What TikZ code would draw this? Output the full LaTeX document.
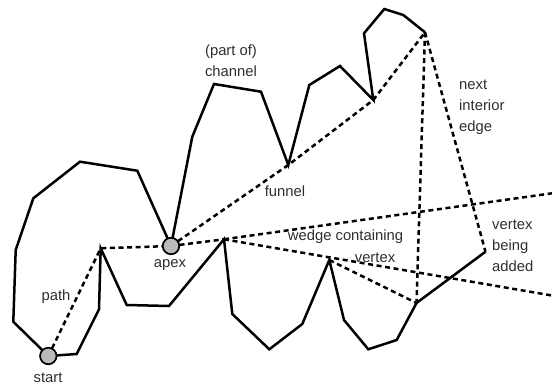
\documentclass[tikz,border=0pt]{standalone}
\usepackage{fontspec}
\setmainfont{Liberation Sans}
\begin{document}
\begin{tikzpicture}[x=1pt,y=-1pt,
  wall/.style={line width=2.5pt,line join=miter,black},
  dashln/.style={line width=2.5pt,dash pattern=on 5pt off 3.6pt,black},
  endpt/.style={circle,draw=black,line width=1.7pt,fill=black!27,minimum size=16.5pt,inner sep=0pt},
  lbl/.style={font=\fontsize{14.8}{21}\selectfont,text=black!82,inner sep=0pt},
  lbll/.style={lbl,align=left,anchor=north west}]
\useasboundingbox (0,0) rectangle (552,388);
% upper wall points
\coordinate (s) at (48.3,356);
\coordinate (a1) at (13.3,321.7);
\coordinate (a2) at (15.7,250);
\coordinate (a3) at (33.3,198.3);
\coordinate (a4) at (80,161.7);
\coordinate (a5) at (137.3,170.7);
\coordinate (ap) at (171,246);
\coordinate (u0) at (192.3,136.7);
\coordinate (u1) at (214,84);
\coordinate (u2) at (261,91.7);
\coordinate (u3) at (288.3,165);
\coordinate (u4) at (309.3,85);
\coordinate (u5) at (340,66);
\coordinate (u6) at (373.3,100);
\coordinate (u7) at (364,33.3);
\coordinate (u8) at (384.3,9);
\coordinate (u9) at (403.3,15);
\coordinate (u10) at (425,32.3);
% lower wall points
\coordinate (l1) at (76.7,354);
\coordinate (l2) at (99,309.3);
\coordinate (l3) at (100.7,248.3);
\coordinate (l4) at (126.7,305);
\coordinate (l5) at (169,306);
\coordinate (l6) at (224,239.3);
\coordinate (l7) at (232.3,314);
\coordinate (l8) at (269.3,349.3);
\coordinate (l9) at (302.3,324);
\coordinate (l10) at (329.3,260);
\coordinate (l11) at (344,320);
\coordinate (l12) at (368.3,349.3);
\coordinate (l13) at (396.7,340);
\coordinate (l14) at (416.5,303);
\coordinate (nv) at (485.5,251.7);
\coordinate (r1) at (552,193.3);
\coordinate (r2) at (552,295.5);
% walls
\draw[wall] (s) -- (a1) -- (a2) -- (a3) -- (a4) -- (a5) -- (ap) -- (u0) -- (u1) -- (u2) -- (u3) -- (u4) -- (u5) -- (u6) -- (u7) -- (u8) -- (u9) -- (u10);
\draw[wall] (s) -- (l1) -- (l2) -- (l3) -- (l4) -- (l5) -- (l6) -- (l7) -- (l8) -- (l9) -- (l10) -- (l11) -- (l12) -- (l13) -- (l14) -- (nv);
% dashed
\draw[dashln] (s) -- (l3) -- (ap);
\draw[dashln] (ap) -- (u3) -- (u6) -- (u10);
\draw[dashln] (ap) -- (l6);
\draw[dashln] (l6) -- (r1);
\draw[dashln] (l6) -- (r2);
\draw[dashln] (l10) -- (l14);
\draw[dashln] (u10) -- (l14);
\draw[dashln] (u10) -- (nv);
% endpoints
\node[endpt] (startc) at (s) {};
\node[endpt] (apexc) at (ap) {};
% labels
\node[lbl] (tstart) at (48,378) {start};
\node[lbl] (tapex) at (170,265) {apex};
\node[lbl] (tpath) at (56,296.5) {path};
\node[lbl] (tfun) at (285,191.5) {funnel};
\node[lbl,align=center] (tchan) at (231,61) {(part of)\\channel};
\node[lbl] (twedge) at (345.5,236.5) {wedge containing};
\node[lbl] (tvert) at (375,257.5) {vertex};
\node[lbll] (tnext) at (459,80) {next\\interior\\edge};
\node[lbll] (tadd) at (492,220) {vertex\\being\\added};
\end{tikzpicture}
\end{document}
